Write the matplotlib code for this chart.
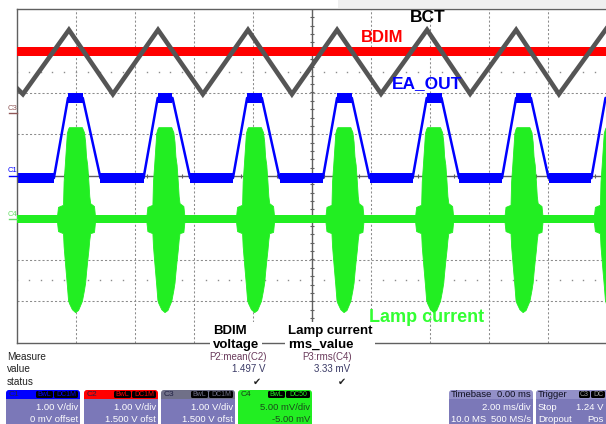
import matplotlib
matplotlib.use('Agg')
import matplotlib.pyplot as plt
from matplotlib.patches import Rectangle, FancyBboxPatch
import numpy as np

W, H = 606, 424
plt.rcParams['font.family'] = ['Liberation Sans', 'DejaVu Sans']

# ---- values ----
# time in ms (2 ms/div, -10..10), level in divisions (-4..4)

# C3 : BCT triangle, corner points
bct_t = [-10.0, -9.80, -8.24, -6.75, -5.22, -3.70, -2.17, -0.68, 0.85, 2.34, 3.90, 5.36, 6.92, 8.37, 9.97, 10.3]
bct_v = [2.10, 1.96, 3.50, 1.96, 3.50, 1.96, 3.50, 1.96, 3.50, 1.97, 3.50, 1.97, 3.50, 1.96, 3.52, 3.30]

# C2 : BDIM, flat noisy line
bdim_level = 2.98
bdim_noise = 0.11

# C1 : EA_OUT trapezoids
ea_centers = [-8.02, -4.98, -1.95, 1.10, 4.14, 7.17, 10.20]
ea_low = -0.05
ea_high = 1.87
ea_shape_t = [-0.73, -0.25, 0.25, 0.85]   # rise start, top start, top end, fall end
ea_noise = 0.12

# C4 : lamp current bursts
lamp_centers = [-8.00, -4.97, -1.93, 1.10, 4.14, 7.17, 10.20]
lamp_base = -1.03
lamp_noise = 0.10
burst_dt = [-0.64, -0.61, -0.44, -0.42, -0.38, -0.31, -0.27, -0.24, -0.14, -0.03, 0.07,
            0.20, 0.27, 0.31, 0.34, 0.38, 0.42, 0.45, 0.48, 0.61, 0.64]
burst_up = [0.10, 0.29, 0.34, 0.90, 1.30, 2.06, 2.16, 2.20, 2.20, 2.20, 2.20,
            2.20, 2.08, 1.85, 1.50, 1.30, 0.90, 0.55, 0.38, 0.31, 0.10]
burst_dn = [0.10, 0.29, 0.34, 0.65, 1.00, 1.58, 1.94, 2.01, 2.16, 2.23, 2.18,
            1.96, 1.70, 1.52, 1.28, 1.00, 0.74, 0.50, 0.34, 0.31, 0.10]

# measurement panel
meas_rows = ['Measure', 'value', 'status']
p_names = ['P2:mean(C2)', 'P3:rms(C4)']
p_values = ['1.497 V', '3.33 mV']

chan_names = ['C1', 'C2', 'C3', 'C4']
chan_vdiv = ['1.00 V/div', '1.00 V/div', '1.00 V/div', '5.00 mV/div']
chan_ofs = ['0 mV offset', '1.500 V ofst', '1.500 V ofst', '-5.00 mV']
chan_tags = [['BwL', 'DC1M'], ['BwL', 'DC1M'], ['BwL', 'DC1M'], ['BwL', 'DC50']]

tb_head = ['Timebase', '0.00 ms']
tb_rows = [['', '2.00 ms/div'], ['10.0 MS', '500 MS/s']]
trig_rows = [['Stop', '1.24 V'], ['Dropout', 'Pos']]

BLUE = '#0000ff'
RED = '#ff0000'
GRAY = '#555555'
GREEN = '#22ee22'
BODY = '#7b78b8'

fig = plt.figure(figsize=(W / 100, H / 100), dpi=100)
fig.patch.set_facecolor('white')

ax = fig.add_axes([17 / W, 81 / H, 590 / W, 334 / H])
ax.set_xlim(-10, 10)
ax.set_ylim(-4, 4)
ax.set_xticks([])
ax.set_yticks([])
for s in ['left', 'top', 'bottom']:
    ax.spines[s].set_color('#606060')
    ax.spines[s].set_linewidth(1.0)
ax.spines['right'].set_visible(False)

# grid
grid_kw = dict(color='#8c8c8c', lw=0.75, ls=(0, (2, 2)), zorder=1)
for t in [-8, -6, -4, -2, 2, 4, 6, 8]:
    ax.axvline(t, **grid_kw)
for v in [-3, -2, -1, 1, 2, 3]:
    ax.axhline(v, **grid_kw)
sub = np.arange(-10, 10.01, 0.4)
for v in [2.5, -2.5]:
    ax.plot(sub, [v] * len(sub), ls='none', marker='s', ms=1.0, mec='none',
            color='#8c8c8c', zorder=1)
ax.axhline(0, color='#606060', lw=1, zorder=1.5)
ax.axvline(0, color='#606060', lw=1, zorder=1.5)
ax.plot(sub, np.zeros(len(sub)), ls='none', marker='|', ms=3.5, mew=0.8,
        color='#606060', zorder=1.5)
vt = np.arange(-4, 4.01, 0.2)
ax.plot(np.zeros(len(vt)), vt, ls='none', marker='_', ms=3.5, mew=0.8,
        color='#606060', zorder=1.5)

# C1 EA_OUT
ea_t = [-10.5]
ea_v = [ea_low]
for c in ea_centers:
    ea_t += [c + d for d in ea_shape_t]
    ea_v += [ea_low, ea_high, ea_high, ea_low]
ax.plot(ea_t, ea_v, color=BLUE, lw=1.8, zorder=2)
for i in range(len(ea_t) - 1):
    if ea_v[i] == ea_v[i + 1]:
        ax.fill_between([ea_t[i], ea_t[i + 1]], ea_v[i] - ea_noise, ea_v[i] + ea_noise,
                        color=BLUE, lw=0, zorder=2)

# C2 BDIM
ax.fill_between([-10, 10], bdim_level - bdim_noise, bdim_level + bdim_noise,
                color=RED, lw=0, zorder=3)

# C3 BCT
ax.plot(bct_t, bct_v, color=GRAY, lw=3.3, solid_joinstyle='miter', zorder=4)

# C4 lamp current
ax.fill_between([-10, 10], lamp_base - lamp_noise, lamp_base + lamp_noise,
                color=GREEN, lw=0, zorder=5)
for c in lamp_centers:
    bt = [c + d for d in burst_dt]
    ax.fill_between(bt, [lamp_base - d for d in burst_dn], [lamp_base + u for u in burst_up],
                    color=GREEN, lw=0.6, ec=GREEN, zorder=5)

# ---- overlay in pixel coords for labels and panel ----
ov = fig.add_axes([0, 0, 1, 1], zorder=10)
ov.set_xlim(0, W)
ov.set_ylim(H, 0)
ov.axis('off')

ov.add_patch(Rectangle((338, 0), 268, 8, color='#efefef', lw=0))

ov.text(410, 18, 'BCT', fontsize=12.5, fontweight='bold', color='black', va='center')
ov.text(361, 38, 'BDIM', fontsize=12, fontweight='bold', color=RED, va='center')
ov.text(392, 84, 'EA_OUT', fontsize=12.5, fontweight='bold', color=BLUE, va='center')
ov.text(369, 317, 'Lamp current', fontsize=13, fontweight='bold', color='#33ff33', va='center')

ov.text(213, 338, 'BDIM\nvoltage', fontsize=9.5, fontweight='bold', va='center',
        linespacing=1.25, bbox=dict(fc='white', ec='none', pad=2))
ov.text(288, 338, 'Lamp current\nrms_value', fontsize=9.5, fontweight='bold', va='center',
        linespacing=1.25, bbox=dict(fc='white', ec='none', pad=2))

# channel markers on the left edge
for lab, y, col in [('C3', 108, '#905858'), ('C1', 171, BLUE), ('C4', 214, '#66dd66')]:
    ov.text(12, y, lab, fontsize=5.5, color=col, ha='center', va='center')
    ov.plot([9, 17], [y + 5, y + 5], color=col, lw=1)

# measure table
for txt, y in zip(meas_rows, [357, 369, 382]):
    ov.text(7, y, txt, fontsize=7.2, color='#222222', va='center')
for name, val, xr in zip(p_names, p_values, [267, 352]):
    ov.text(xr, 357, name, fontsize=7, color='#6a3b5c', ha='right', va='center')
    ov.text(xr - 2, 369, val, fontsize=7, color='#3a3a66', ha='right', va='center')
    ov.text(xr - 10, 382, '\u2714', fontsize=7, color='#222222', ha='center', va='center',
            family='DejaVu Sans')

# channel boxes
box_x = [6, 84, 161, 238]
heads = [BLUE, RED, '#707088', GREEN]
for name, vd, of, tags, x0, hc in zip(chan_names, chan_vdiv, chan_ofs, chan_tags, box_x, heads):
    bw = 74
    body = GREEN if name == 'C4' else BODY
    ov.add_patch(FancyBboxPatch((x0, 390), bw, 45, boxstyle='round,pad=0,rounding_size=3',
                                fc=hc, ec='none'))
    ov.add_patch(Rectangle((x0, 399), bw, 36, fc=body, ec='none'))
    tc = '#1a3a1a' if name == 'C4' else '#222244'
    ov.text(x0 + 3, 394.5, name, fontsize=6, color=tc, va='center')
    tx = x0 + 30
    for tg, tw in zip(tags, [17, 24]):
        ov.add_patch(FancyBboxPatch((tx, 391), tw, 7, boxstyle='round,pad=0,rounding_size=1.5',
                                    fc='black', ec='none'))
        ov.text(tx + tw / 2, 394.5, tg, fontsize=5, color=hc, ha='center', va='center')
        tx += tw + 1
    txtc = '#1a4a1a' if name == 'C4' else 'white'
    ov.text(x0 + bw - 2, 407, vd, fontsize=6.8, color=txtc, ha='right', va='center')
    ov.text(x0 + bw - 2, 419, of, fontsize=6.8, color=txtc, ha='right', va='center')

# timebase box
ov.add_patch(FancyBboxPatch((449, 390), 84, 45, boxstyle='round,pad=0,rounding_size=3',
                            fc='#9390c8', ec='none'))
ov.add_patch(Rectangle((449, 399), 84, 36, fc=BODY, ec='none'))
ov.text(451, 394.5, tb_head[0], fontsize=6.8, color='#111122', va='center')
ov.text(531, 394.5, tb_head[1], fontsize=6.8, color='#111122', ha='right', va='center')
for (l, r), y in zip(tb_rows, [407, 419]):
    ov.text(451, y, l, fontsize=6.8, color='white', va='center')
    ov.text(531, y, r, fontsize=6.8, color='white', ha='right', va='center')

# trigger box
ov.add_patch(FancyBboxPatch((536, 390), 80, 45, boxstyle='round,pad=0,rounding_size=3',
                            fc='#9390c8', ec='none'))
ov.add_patch(Rectangle((536, 399), 80, 36, fc=BODY, ec='none'))
ov.text(538, 394.5, 'Trigger', fontsize=6.8, color='#111122', va='center')
tx = 579
for tg, tw in zip(['C3', 'DC'], [11, 14]):
    ov.add_patch(FancyBboxPatch((tx, 391), tw, 7, boxstyle='round,pad=0,rounding_size=1.5',
                                fc='black', ec='none'))
    ov.text(tx + tw / 2, 394.5, tg, fontsize=5, color='#9a9a9a', ha='center', va='center')
    tx += tw + 1
for (l, r), y in zip(trig_rows, [407, 419]):
    ov.text(538, y, l, fontsize=6.8, color='white', va='center')
    ov.text(604, y, r, fontsize=6.8, color='white', ha='right', va='center')

fig.savefig('out.png', dpi=100)
